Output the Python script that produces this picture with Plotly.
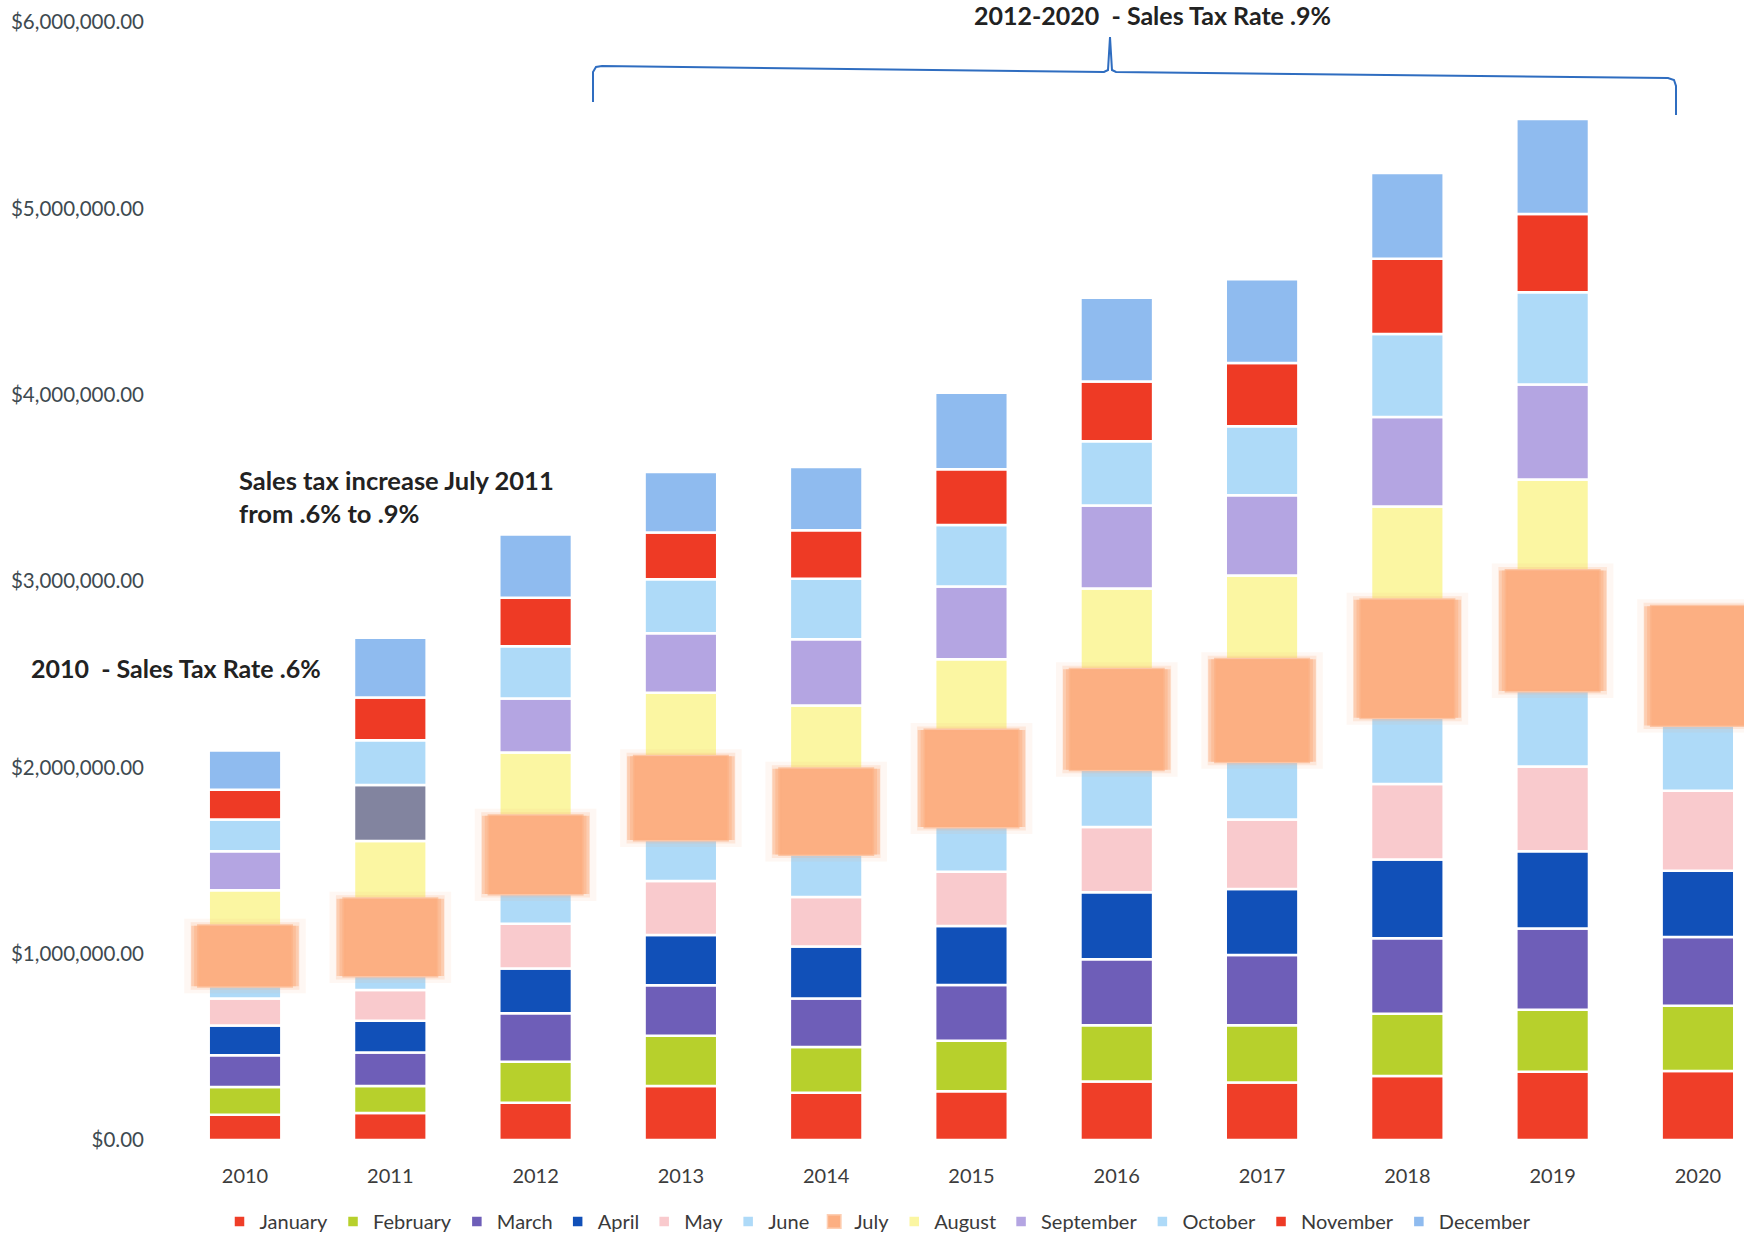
import plotly.graph_objects as go

# ---------------- data ----------------
years = ["2010", "2011", "2012", "2013", "2014", "2015", "2016", "2017", "2018", "2019", "2020"]
months = ["January", "February", "March", "April", "May", "June",
          "July", "August", "September", "October", "November", "December"]

january   = [135000, 145000, 200000, 290000, 253000, 261000, 314000, 308000, 344000, 366000, 370000]
february  = [150000, 145000, 220000, 270000, 246000, 271000, 302000, 308000, 333000, 333000, 350000]
march     = [170000, 180000, 260000, 270000, 260000, 300000, 354000, 377000, 406000, 436000, 370000]
april     = [160000, 170000, 240000, 270000, 280000, 316000, 360000, 354000, 422000, 415000, 355000]
may       = [145000, 165000, 240000, 290000, 265000, 292000, 350000, 373000, 405000, 454000, 430000]
june      = [65000, 75000, 160000, 220000, 228000, 240000, 307000, 310000, 356000, 406000, 350000]
july      = [325000, 415000, 420000, 450000, 460000, 520000, 540000, 550000, 634000, 647000, 640000]
august    = [190000, 310000, 340000, 340000, 340000, 380000, 433000, 450000, 500000, 488000, None]
september = [210000, 300000, 290000, 320000, 355000, 390000, 445000, 430000, 480000, 510000, None]
october   = [170000, 240000, 280000, 290000, 325000, 330000, 345000, 370000, 445000, 495000, None]
november  = [160000, 230000, 260000, 250000, 260000, 300000, 320000, 340000, 405000, 420000, None]
december  = [210000, 320000, 340000, 325000, 340000, 410000, 450000, 450000, 460000, 510000, None]

series = [january, february, march, april, may, june, july,
          august, september, october, november, december]

colors = ["#EF3E28", "#B7D02C", "#6E5EB8", "#1150B8", "#F9CACD", "#AEDAF8",
          "#FCAF82", "#FBF6A2", "#B4A5E2", "#AEDAF8", "#EE3A25", "#8FBBEF"]
sep_2011_color = "#82849F"

tick_vals = [0, 1000000, 2000000, 3000000, 4000000, 5000000, 6000000]

# ---------------- layout helpers ----------------
W, H = 1744, 1241
L, R, T, B = 150, 0, 22, 101
PW, PH = W - L - R, H - T - B


def px(x):
    return (x - L) / PW


def py(y):
    return (T + PH - y) / PH


# cumulative bases (stack computed from the data)
bases = []
running = [0] * len(years)
for s in series:
    bases.append(list(running))
    running = [r + (v if v is not None else 0) for r, v in zip(running, s)]

fig = go.Figure()


def add_month(i, width=0.5, line=None, showlegend=True, opacity=1.0, color=None):
    vals = series[i]
    xs = [years[k] for k in range(len(years)) if vals[k] is not None]
    ys = [vals[k] for k in range(len(years)) if vals[k] is not None]
    bs = [bases[i][k] for k in range(len(years)) if vals[k] is not None]
    if color is None:
        color = colors[i]
        if months[i] == "September":
            color = [sep_2011_color if x == "2011" else colors[i] for x in xs]
    fig.add_trace(go.Bar(
        x=xs, y=ys, base=bs, name=months[i], width=width,
        marker=dict(color=color, line=line if line else dict(color="white", width=2.5)),
        opacity=opacity, showlegend=showlegend, legendrank=i + 1,
        hovertemplate="%{x} " + months[i] + ": %{y:$,.2f}<extra></extra>",
    ))


for i in range(12):
    if months[i] != "July":
        add_month(i)

# July drawn last with a soft glow
j = months.index("July")
add_month(j, width=0.74, line=dict(color="rgba(252,175,130,0.18)", width=14),
          showlegend=False, opacity=0.5)
add_month(j, width=0.7, line=dict(color="rgba(252,175,130,0.35)", width=7),
          showlegend=False, opacity=0.6)
add_month(j, width=0.64, line=dict(color="rgba(252,175,130,0.6)", width=3))

# ---------------- brace ----------------
brace_pts = [(593, 102), (593, 72), (596, 67), (602, 66), (1104, 72), (1108, 70),
             (1110, 37), (1112, 70), (1116, 72), (1668, 78), (1674, 80), (1676, 86), (1676, 115)]
path = "M " + " L ".join(f"{px(x):.5f},{py(y):.5f}" for x, y in brace_pts)
fig.add_shape(type="path", path=path, xref="paper", yref="paper",
              line=dict(color="#2F6DC0", width=2))

# ---------------- annotations ----------------
ann_font = dict(family="Lato", color="#222222")
fig.add_annotation(x=px(1152), y=py(15), xref="paper", yref="paper",
                   text="<b>2012-2020  - Sales Tax Rate .9%</b>", showarrow=False,
                   xanchor="center", yanchor="middle", font=dict(size=25, **ann_font))
fig.add_annotation(x=px(237), y=py(496), xref="paper", yref="paper",
                   text="<b>Sales tax increase July 2011<br>from .6% to .9%</b>", showarrow=False,
                   xanchor="left", yanchor="middle", align="left",
                   font=dict(size=25.5, **ann_font))
fig.add_annotation(x=px(29), y=py(668), xref="paper", yref="paper",
                   text="<b>2010  - Sales Tax Rate .6%</b>", showarrow=False,
                   xanchor="left", yanchor="middle", font=dict(size=25, **ann_font))

fig.update_layout(
    width=W, height=H,
    margin=dict(l=L, r=R, t=T, b=B),
    paper_bgcolor="white", plot_bgcolor="white",
    barmode="overlay",
    font=dict(family="Lato", size=19, color="#3a3a3a"),
    legend=dict(orientation="h", x=px(878), xanchor="center", y=py(1222), yanchor="middle",
                font=dict(family="Lato", size=20, color="#3a3a3a"),
                traceorder="normal", bgcolor="rgba(0,0,0,0)"),
    xaxis=dict(type="category", categoryorder="array", categoryarray=years,
               range=[-0.654, 10.317], showline=False, showgrid=False, zeroline=False,
               ticks="", tickfont=dict(size=20, color="#3c3c3c"), ticklabelstandoff=22),
    yaxis=dict(range=[0, 6000000], tickvals=tick_vals, tickformat="$,.2f",
               showline=False, showgrid=False, zeroline=False, ticks="",
               ticklabelstandoff=5,
               tickfont=dict(size=20.5, color="#3E4A50")),
)

fig.write_html("out.html")
